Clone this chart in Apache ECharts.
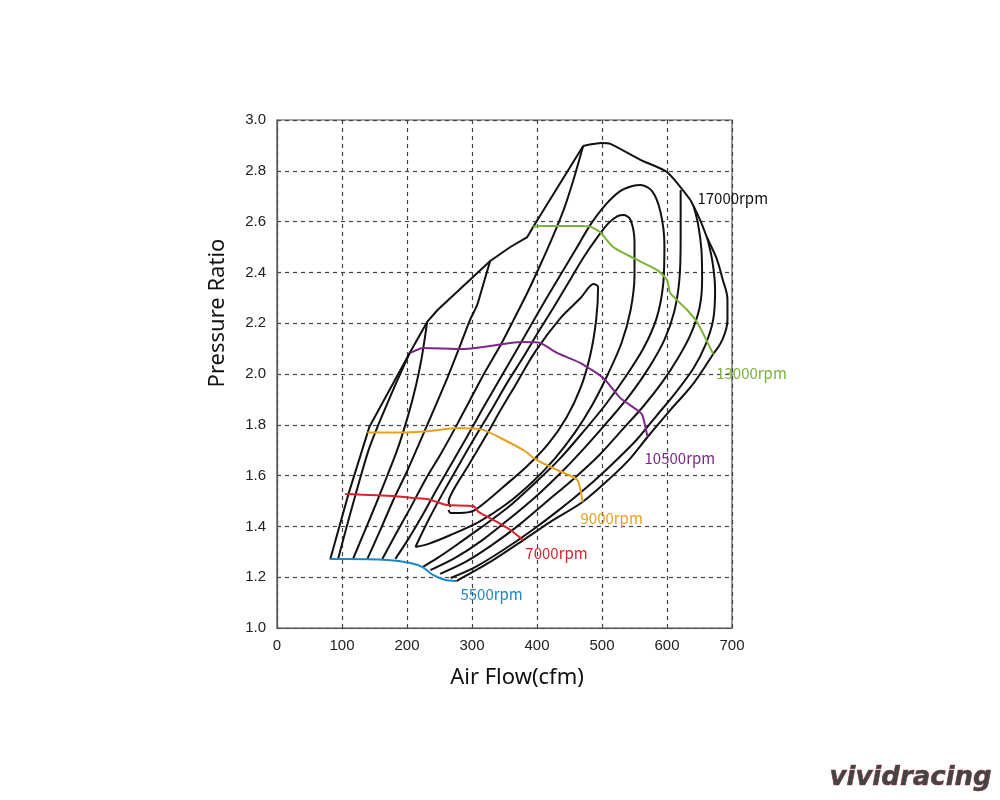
<!DOCTYPE html>
<html><head><meta charset="utf-8">
<script src="https://cdn.jsdelivr.net/npm/echarts@6/dist/echarts.min.js"></script>
<style>html,body{margin:0;padding:0;background:#fff}#c{width:1000px;height:800px}</style>
</head><body><div id="c"></div>
<script>
// Axis ranges
const xRange = [0, 700], xStep = 100;
const yRange = [1.0, 3.0], yStep = 0.2;

// Map boundary (surge line, 17000 rpm line, choke line)
const surgeLine = [[82,1.272],[110,1.528],[142,1.791],[205,2.087],[231,2.205],[247,2.252],[328,2.445],[359,2.50],[385,2.539],[394,2.579],[471,2.898]];
const rpm17000 = [[471,2.898],[499,2.909],[513,2.906],[559,2.843],[600,2.795],[636,2.685]];
const rpm17000b = [[636,2.685],[651,2.606],[662,2.535],[676,2.457],[685,2.378],[693,2.291],[693,2.213],[685,2.134],[671,2.079]];
const chokeLine = [[671,2.079],[639,1.957],[605,1.858],[570,1.752],[544,1.669],[513,1.591],[470,1.496],[420,1.417],[379,1.346],[328,1.260],[276,1.185]];

// Efficiency contours
const eff1L = [[94,1.272],[110,1.425],[125,1.563],[141,1.701],[159,1.819],[182,1.957],[205,2.087]];
const eff2L = [[117,1.272],[131,1.358],[144,1.437],[164,1.563],[185,1.701],[202,1.839],[214,1.957],[222,2.055],[227,2.134],[231,2.205]];
const eff2R = [[662,2.535],[670,2.441],[674,2.331],[671,2.213],[659,2.114],[641,2.024],[614,1.929],[585,1.839],[553,1.740],[516,1.646],[477,1.555],[436,1.469],[393,1.386],[348,1.307],[305,1.240],[267,1.197]];
const eff3L = [[139,1.272],[159,1.386],[179,1.504],[201,1.622],[221,1.740],[241,1.858],[262,1.984],[282,2.114],[297,2.213],[308,2.272],[317,2.350],[328,2.445]];
const eff3R = [[641,2.661],[648,2.587],[653,2.488],[654,2.370],[650,2.260],[636,2.154],[617,2.063],[593,1.969],[564,1.874],[531,1.780],[496,1.681],[458,1.591],[416,1.500],[374,1.409],[331,1.327],[290,1.260],[251,1.213]];
const eff4L = [[162,1.272],[182,1.366],[205,1.472],[228,1.583],[251,1.681],[274,1.787],[297,1.898],[320,2.008],[344,2.114],[364,2.213],[385,2.319],[405,2.429],[424,2.539],[441,2.646],[456,2.764],[471,2.898]];
const eff4R = [[621,2.724],[621,2.528],[619,2.370],[611,2.244],[596,2.134],[573,2.028],[544,1.921],[511,1.819],[477,1.720],[441,1.622],[401,1.524],[359,1.433],[316,1.346],[274,1.276],[236,1.228]];
const eff5 = [[182,1.272],[201,1.346],[224,1.445],[247,1.551],[270,1.654],[293,1.756],[317,1.866],[342,1.976],[367,2.087],[390,2.189],[413,2.291],[436,2.390],[459,2.488],[482,2.587],[505,2.665],[528,2.720],[547,2.740],[559,2.744],[577,2.720],[590,2.638],[596,2.508],[594,2.350],[584,2.220],[564,2.102],[536,1.988],[505,1.878],[471,1.772],[436,1.669],[397,1.571],[356,1.476],[313,1.394],[274,1.323],[247,1.276],[224,1.240]];
const eff6 = [[213,1.319],[233,1.425],[256,1.535],[279,1.638],[302,1.740],[328,1.850],[354,1.965],[379,2.067],[402,2.165],[425,2.260],[448,2.358],[471,2.457],[493,2.539],[510,2.594],[524,2.622],[534,2.626],[544,2.606],[550,2.520],[550,2.390],[544,2.252],[530,2.122],[507,1.988],[485,1.878],[459,1.772],[428,1.669],[393,1.575],[351,1.484],[310,1.417],[267,1.366],[233,1.331],[213,1.319]];
const eff7 = [[267,1.476],[264,1.496],[274,1.555],[293,1.634],[324,1.768],[344,1.858],[367,1.957],[397,2.087],[436,2.220],[467,2.299],[487,2.354],[494,2.343],[491,2.213],[482,2.075],[467,1.945],[445,1.827],[417,1.724],[385,1.638],[348,1.555],[321,1.496],[302,1.461],[282,1.453],[267,1.453],[264,1.465]];

// Speed lines
const rpm5500 = [[81,1.272],[105,1.272],[170,1.268],[205,1.256],[224,1.240],[240,1.209],[259,1.189],[276,1.185]];
const rpm7000 = [[105,1.528],[179,1.520],[210,1.512],[231,1.508],[246,1.496],[262,1.484],[302,1.480],[310,1.457],[339,1.417],[359,1.386],[379,1.346]];
const rpm9000 = [[139,1.770],[185,1.770],[236,1.776],[277,1.787],[317,1.780],[344,1.748],[379,1.700],[400,1.661],[431,1.622],[462,1.583],[470,1.496]];
const rpm10500 = [[205,2.083],[225,2.102],[287,2.098],[359,2.122],[379,2.126],[405,2.122],[431,2.083],[467,2.043],[502,1.984],[528,1.906],[554,1.858],[562,1.839],[570,1.752]];
const rpm13000 = [[394,2.580],[405,2.583],[467,2.583],[482,2.580],[497,2.559],[517,2.500],[548,2.457],[585,2.409],[600,2.370],[605,2.319],[631,2.252],[647,2.201],[671,2.079]];

const labelFont = '"Noto Sans CJK KR", "Noto Sans", sans-serif';

function blk(data, smooth) {
  return { type:'line', data, symbol:'none', smooth: smooth || 0, silent:true,
    lineStyle:{ color:'#111', width:2 }, z:2 };
}
function spd(data, color, text, offset) {
  return { type:'line', data, symbol:'none', smooth:0.2, silent:true,
    lineStyle:{ color, width:2 }, z:3,
    endLabel:{ show:true, formatter:text, color, fontSize:15, fontFamily:labelFont, offset } };
}

const chart = echarts.init(document.getElementById('c'), null, {renderer:'canvas'});
chart.setOption({
  animation:false,
  backgroundColor:'#fff',
  grid:{ left:277, right:268, top:120, bottom:172, show:true, borderColor:'#555', borderWidth:1.2 },
  xAxis:{ type:'value', min:xRange[0], max:xRange[1], interval:xStep,
    axisLine:{ show:true, lineStyle:{ color:'#555', width:1.2 } }, axisTick:{ show:false },
    axisLabel:{ color:'#222', fontSize:15, fontFamily:'"Liberation Sans", Arial, sans-serif', margin:10 },
    splitLine:{ show:true, lineStyle:{ color:'#444', type:[4,4], width:1.2 } } },
  yAxis:{ type:'value', min:yRange[0], max:yRange[1], interval:yStep,
    axisLine:{ show:true, lineStyle:{ color:'#555', width:1.2 } }, axisTick:{ show:false },
    axisLabel:{ color:'#222', fontSize:15, fontFamily:'"Liberation Sans", Arial, sans-serif', margin:11,
      formatter: v => v.toFixed(1) },
    splitLine:{ show:true, lineStyle:{ color:'#444', type:[4,4], width:1.2 } } },
  graphic:[
    { type:'text', x:218, y:313, rotation:Math.PI/2, style:{ text:'Pressure Ratio', fill:'#111',
      font:'22px "Noto Sans", sans-serif', align:'center', verticalAlign:'middle' } },
    { type:'text', x:517, y:678, style:{ text:'Air Flow(cfm)', fill:'#111',
      font:'22px "Noto Sans", sans-serif', align:'center', verticalAlign:'middle' } },
    { type:'text', right:8, bottom:8, style:{ text:'vividracing', fill:'#444', stroke:'#c33', lineWidth:0.6,
      font:'italic bold 26px "DejaVu Sans", sans-serif' } }
  ],
  series:[
    blk(surgeLine), blk(rpm17000, 0.2), blk(rpm17000b, 0.4), blk(chokeLine, 0.3),
    blk(eff1L, 0.2), blk(eff2L, 0.2), blk(eff2R, 0.3),
    blk(eff3L, 0.2), blk(eff3R, 0.3), blk(eff4L, 0.2), blk(eff4R, 0.3),
    blk(eff5, 0.3), blk(eff6, 0.3), blk(eff7, 0.3),
    Object.assign(blk(rpm17000), { lineStyle:{ width:0, opacity:0 },
      endLabel:{ show:true, formatter:'17000rpm', color:'#111', fontSize:15, fontFamily:labelFont, offset:[-1,-2] } }),
    spd(rpm5500, '#1c86c6', '5500rpm', [-4,13]),
    spd(rpm7000, '#d8222e', '7000rpm', [-6,13]),
    spd(rpm9000, '#e8a11e', '9000rpm', [-10,16]),
    spd(rpm10500, '#7a2a85', '10500rpm', [-11,21]),
    spd(rpm13000, '#7bb23a', '13000rpm', [-5,19])
  ]
});
</script></body></html>
